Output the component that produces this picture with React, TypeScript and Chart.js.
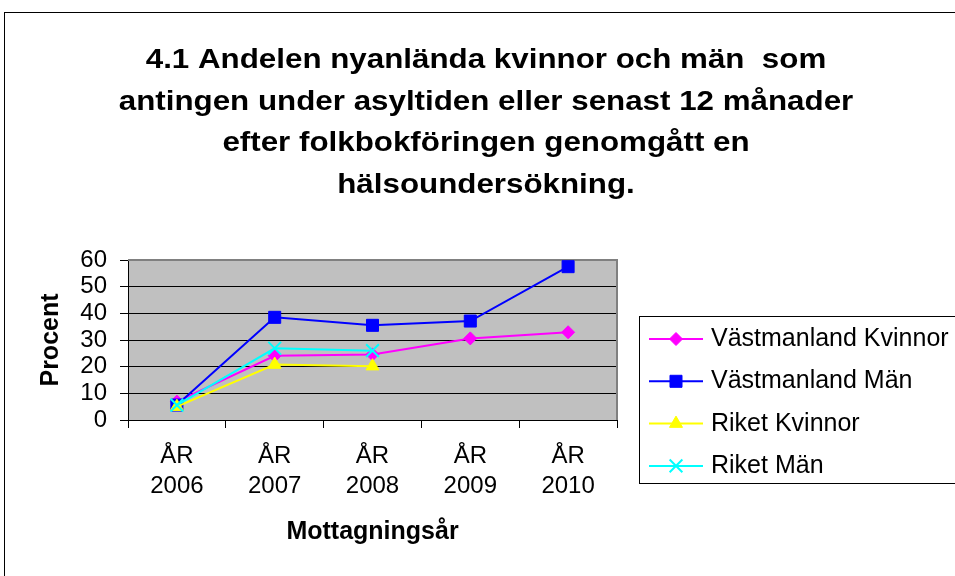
import { useEffect, useRef } from 'react';
import { Chart, registerables } from 'chart.js';
import { drawPoint } from 'chart.js/helpers';

Chart.register(...registerables);

const FONT = '"Liberation Sans", Arial, sans-serif';

const years = ['2006', '2007', '2008', '2009', '2010'];
const tickPrefix = 'ÅR';
const vastKvinnor = [6.9, 24.1, 24.6, 30.6, 32.9];
const vastMan = [5.6, 38.5, 35.5, 37.1, 57.5];
const riketKvinnor = [5.0, 20.8, 20.2, null, null];
const riketMan = [5.6, 26.9, 26.0, null, null];
const seriesNames = ['Västmanland Kvinnor', 'Västmanland Män', 'Riket Kvinnor', 'Riket Män'];
const titleLines = [
  '4.1 Andelen nyanlända kvinnor och män  som',
  'antingen under asyltiden eller senast 12 månader',
  'efter folkbokföringen genomgått en',
  'hälsoundersökning.',
];
const yTitle = 'Procent';
const xTitle = 'Mottagningsår';
const yMin = 0;
const yMax = 60;
const yStep = 10;

const colors = ['#FF00FF', '#0000FF', '#FFFF00', '#00FFFF'];
const pointStyles = ['rectRot', 'rect', 'triangle', 'crossRot'];
const pointRadii = [6.5, 8.5, 7.5, 9];
const pointBorders = [1, 1, 1, 2];

export default function App() {
  const ref = useRef<HTMLCanvasElement | null>(null);

  useEffect(() => {
    const canvas = ref.current;
    if (!canvas) return;
    const seriesData = [vastKvinnor, vastMan, riketKvinnor, riketMan];

    const framePlugin = {
      id: 'framePlugin',
      beforeDraw(chart: any) {
        const { ctx, chartArea } = chart;
        ctx.save();
        ctx.fillStyle = '#FFFFFF';
        ctx.fillRect(0, 0, chart.width, chart.height);
        ctx.strokeStyle = '#000000';
        ctx.lineWidth = 1;
        ctx.strokeRect(4.5, 12.5, 2000, 2000);
        ctx.fillStyle = '#C0C0C0';
        ctx.fillRect(chartArea.left, chartArea.top, chartArea.right - chartArea.left, chartArea.bottom - chartArea.top);
        ctx.restore();
      },
      beforeDatasetsDraw(chart: any) {
        const { ctx, chartArea } = chart;
        ctx.save();
        ctx.strokeStyle = '#808080';
        ctx.lineWidth = 2;
        ctx.beginPath();
        ctx.moveTo(chartArea.left, chartArea.top);
        ctx.lineTo(chartArea.right, chartArea.top);
        ctx.lineTo(chartArea.right, chartArea.bottom);
        ctx.stroke();
        ctx.restore();
      },
      afterDraw(chart: any) {
        const { ctx } = chart;
        ctx.save();
        // Title
        ctx.fillStyle = '#000000';
        ctx.font = `bold 27px ${FONT}`;
        ctx.textAlign = 'center';
        ctx.textBaseline = 'alphabetic';
        titleLines.forEach((line, i) => {
          ctx.save();
          ctx.translate(486, 68 + i * 41.5);
          ctx.scale(1.16, 1);
          ctx.fillText(line, 0, 0);
          ctx.restore();
        });
        // Legend
        ctx.strokeStyle = '#000000';
        ctx.lineWidth = 1;
        ctx.strokeRect(639.5, 316.5, 400, 167);
        ctx.font = `25px ${FONT}`;
        ctx.textAlign = 'left';
        chart.data.datasets.forEach((ds: any, i: number) => {
          const y = 339 + i * 42.3;
          ctx.strokeStyle = ds.borderColor;
          ctx.lineWidth = ds.borderWidth;
          ctx.beginPath();
          ctx.moveTo(649, y);
          ctx.lineTo(703, y);
          ctx.stroke();
          ctx.fillStyle = ds.pointBackgroundColor;
          ctx.strokeStyle = ds.pointBorderColor;
          ctx.lineWidth = ds.pointBorderWidth;
          drawPoint(ctx, { pointStyle: ds.pointStyle, radius: ds.pointRadius, borderWidth: ds.pointBorderWidth, rotation: 0 } as any, 676, y);
          ctx.fillStyle = '#000000';
          ctx.fillText(ds.label, 711, y + 7);
        });
        ctx.restore();
      },
    };

    const chart = new Chart(canvas, {
      type: 'line',
      data: {
        labels: years.map((y) => [tickPrefix, y]),
        datasets: seriesNames.map((name, i) => ({
          label: name,
          data: seriesData[i],
          borderColor: colors[i],
          backgroundColor: colors[i],
          borderWidth: 2,
          pointStyle: pointStyles[i],
          pointRadius: pointRadii[i],
          pointBackgroundColor: colors[i],
          pointBorderColor: colors[i],
          pointBorderWidth: pointBorders[i],
          tension: 0,
          fill: false,
          order: 3 - i,
        })),
      },
      options: {
        animation: false,
        responsive: false,
        devicePixelRatio: 1,
        events: [],
        layout: { padding: { left: 0, top: 260, right: 338, bottom: 0 } },
        plugins: {
          legend: { display: false },
          title: { display: false },
          tooltip: { enabled: false },
        },
        scales: {
          x: {
            type: 'category',
            offset: true,
            grid: { display: true, offset: true, drawOnChartArea: false, drawTicks: true, tickLength: 8, color: '#000000', lineWidth: 1 },
            border: { display: true, color: '#000000', width: 1 },
            ticks: { color: '#000000', font: { family: FONT, size: 24, lineHeight: 1.25 }, padding: 13, maxRotation: 0, autoSkip: false },
            title: { display: true, text: xTitle, color: '#000000', font: { family: FONT, size: 25, weight: 'bold', lineHeight: 1.2 }, padding: { top: 0, bottom: 29 } },
            afterFit: (s: any) => { s.height = 156; },
          },
          y: {
            min: yMin,
            max: yMax,
            ticks: { stepSize: yStep, color: '#000000', font: { family: FONT, size: 24, lineHeight: 1 }, padding: 13, autoSkip: false },
            grid: { color: '#000000', lineWidth: 1, tickLength: 8, drawTicks: true },
            border: { display: true, color: '#000000', width: 1 },
            title: { display: true, text: yTitle, color: '#000000', font: { family: FONT, size: 25, weight: 'bold', lineHeight: 1.2 }, padding: { top: 36, bottom: 0 } },
            afterFit: (s: any) => { s.width = 128; },
          },
        },
      } as any,
      plugins: [framePlugin],
    });

    return () => chart.destroy();
  }, []);

  return (
    <div style={{ position: 'fixed', left: 0, top: 0, width: 955, height: 576, background: '#FFFFFF' }}>
      <canvas ref={ref} width={955} height={576} style={{ display: 'block', width: 955, height: 576 }} />
    </div>
  );
}
